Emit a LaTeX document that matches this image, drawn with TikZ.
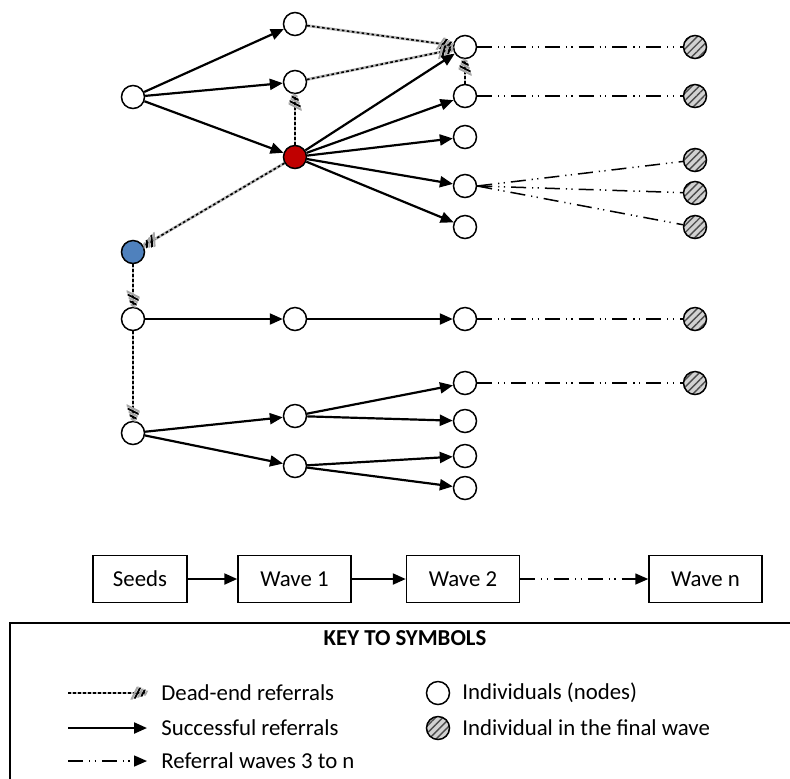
\documentclass[tikz,border=0pt]{standalone}
\usepackage{fontspec}
\setmainfont{Carlito}
\usetikzlibrary{arrows.meta,patterns.meta}
\definecolor{seedred}{RGB}{192,0,0}
\definecolor{seedblue}{RGB}{79,129,189}
\newcommand{\keysize}{\fontsize{11.4}{13.5}\selectfont}
\tikzset{
  person/.style={circle, draw, line width=0.75pt, fill=white, minimum size=11.5pt, inner sep=0pt},
  final/.style={circle, draw, line width=0.75pt, minimum size=11.5pt, inner sep=0pt,
    preaction={fill=gray!35}, pattern={Lines[angle=45, distance=2.6pt, line width=0.7pt]}, pattern color=black!70},
  stage/.style={draw, line width=0.75pt, minimum width=56.5pt, minimum height=23.5pt, inner sep=0pt},
  refer/.style={line width=1.1pt, -{Triangle[length=6.5pt, width=5.5pt]}},
  dead/.style={draw=black, line width=0.8pt, dash pattern=on 1.3pt off 1.2pt,
    preaction={-, draw=gray!55, line width=1.4pt, solid},
    -{Bar[width=6.5pt, line width=1.1pt, slant=0.5, sep=0.3pt, color=gray!70]
      Bar[width=5.5pt, line width=1.1pt, slant=0.5, sep=0.3pt]
      Bar[width=4.5pt, line width=1.1pt, slant=0.5, sep=0.3pt, color=gray!70]
      Bar[width=3.5pt, line width=1.1pt, slant=0.5, sep=0.3pt]
      Bar[width=2.5pt, line width=1.1pt, slant=0.5, color=gray!70]}},
  wave/.style={line width=0.75pt, dash pattern=on 7.5pt off 3pt on 0.6pt off 2.2pt on 0.6pt off 3pt},
  label/.style={anchor=west, inner sep=0pt}
}
\begin{document}
\begin{tikzpicture}[x=0.5pt, y=-0.5pt, font=\keysize]
  \useasboundingbox (0,0) rectangle (790,778);
  % seeds
  \node[person] (s1) at (133,97) {};
  \node[person, fill=seedblue] (sb) at (133,252) {};
  \node[person] (s2) at (133,319) {};
  \node[person] (s3) at (133,433) {};
  % wave 1
  \node[person] (a1) at (295,24) {};
  \node[person] (a2) at (295,82) {};
  \node[person, fill=seedred] (ar) at (295,157) {};
  \node[person] (a3) at (295,319) {};
  \node[person] (a4) at (295,416) {};
  \node[person] (a5) at (295,466) {};
  % wave 2
  \foreach \n/\y in {1/47,2/96,3/137,4/186,5/227,6/319,7/383,8/421,9/456,10/488}
    \node[person] (b\n) at (465,\y) {};
  % final wave
  \foreach \n/\y in {1/47,2/96,3/160,4/193,5/227,6/319,7/383}
    \node[final] (f\n) at (695,\y) {};
  % successful referrals
  \foreach \u/\v in {s1/a1,s1/a2,s1/ar,ar/b1,ar/b2,ar/b3,ar/b4,ar/b5,s2/a3,a3/b6,s3/a4,s3/a5,a4/b7,a4/b8,a5/b9,a5/b10}
    \draw[refer] (\u) -- (\v);
  % dead-end referrals
  \foreach \u/\v in {a1/b1,a2/b1,b2/b1,ar/a2,ar/sb,sb/s2,s2/s3}
    \draw[dead] (\u) -- (\v);
  % referral waves 3 to n
  \foreach \u/\v in {b1/f1,b2/f2,b4.east/f3,b4.east/f4,b4.east/f5,b6/f6,b7/f7}
    \draw[wave] (\u) -- (\v);
  % stages
  \node[stage, minimum width=47pt] (seeds) at (140,579) {Seeds};
  \node[stage] (wave1) at (294.5,579) {Wave 1};
  \node[stage] (wave2) at (463,579) {Wave 2};
  \node[stage] (waven) at (705.5,579) {Wave n};
  \draw[refer] (seeds) -- (wave1);
  \draw[refer] (wave1) -- (wave2);
  \draw[wave, -{Triangle[length=6.5pt, width=5.5pt]}] (wave2) -- (waven);
  % key
  \draw[line width=0.75pt] (10,800) -- (10,623) -- (800,623);
  \node[font=\keysize\bfseries] (keytitle) at (405,638) {KEY TO SYMBOLS};
  \coordinate (d0) at (68,693);
  \coordinate (d1) at (147,693);
  \coordinate (r0) at (68,728);
  \coordinate (r1) at (147,728);
  \coordinate (w0) at (68,761);
  \coordinate (w1) at (147,761);
  \draw[dead] (d0) -- (d1);
  \draw[refer] (r0) -- (r1);
  \draw[wave, -{Triangle[length=6.5pt, width=5.5pt]}] (w0) -- (w1);
  \node[label] (dtext) at (161,693) {Dead-end referrals};
  \node[label] (rtext) at (161,728) {Successful referrals};
  \node[label] (wtext) at (161,761) {Referral waves 3 to n};
  \node[person] (kp) at (438,693) {};
  \node[final] (kf) at (438,728) {};
  \node[label] (ptext) at (462,693) {Individuals (nodes)};
  \node[label] (ftext) at (462,728) {Individual in the final wave};
\end{tikzpicture}
\end{document}
